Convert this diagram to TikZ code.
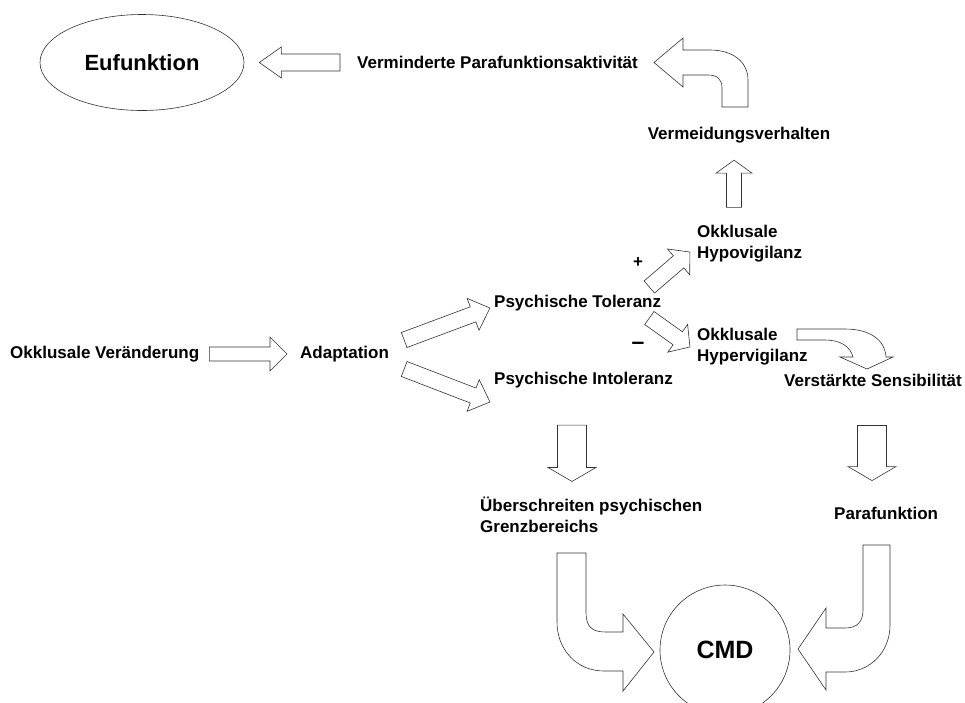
\documentclass[tikz,border=0pt]{standalone}
\usepackage{fontspec}
\setmainfont{Liberation Sans}
\usetikzlibrary{calc,shapes.geometric}

% block arrow: tail, tip, half shaft, half head, head length
\newcommand{\blockarrow}[5]{%
  \draw[blk] let \p1=(#1), \p2=(#2),
    \n1={atan2(\y2-\y1,\x2-\x1)}, \n2={veclen(\x2-\x1,\y2-\y1)} in
    [shift={(\p1)}, rotate=\n1]
    (0,#3) -- ({\n2-#5},#3) -- ({\n2-#5},#4) -- (\n2,0) -- ({\n2-#5},-#4) -- ({\n2-#5},-#3) -- (0,-#3) -- cycle;}

\begin{document}
\begin{tikzpicture}[x=1pt,y=-1pt]
\tikzstyle{txt}=[font=\bfseries\fontsize{17}{21}\selectfont, inner sep=0pt, align=left]
\tikzstyle{blk}=[draw=black!80, fill=white, line width=0.6pt, line join=miter]
\tikzstyle{bubble}=[draw=black!80, line width=0.6pt, inner sep=0pt]

\useasboundingbox (0,0) rectangle (965,702);

    % Aussagen
    \node[txt, anchor=west] (okk_v) at (10,354) {Okklusale Veränderung};
    \node[txt, anchor=west] (adapt) at (300,354) {Adaptation};
    \node[txt, anchor=west] (tol) at (494,303) {Psychische Toleranz};
    \node[txt, anchor=west] (intol) at (494,380) {Psychische Intoleranz};
    \node[txt, anchor=west] (hypo) at (697,244) {Okklusale\\Hypovigilanz};
    \node[txt, anchor=west] (hyper) at (697,347) {Okklusale\\Hypervigilanz};
    \node[txt] (verm) at (739,135) {Vermeidungsverhalten};
    \node[txt, anchor=west] (vpa) at (357,62.5) {Verminderte Parafunktionsaktivität};
    \node[txt, anchor=west] (sens) at (784,380) {Verstärkte Sensibilität};
    \node[txt, anchor=west] (ueber) at (480,515) {Überschreiten psychischen\\Grenzbereichs};
    \node[txt, anchor=west] (para) at (834,513) {Parafunktion};
    \node[txt] (plus) at (638,263) {+};
    \node[txt, font=\bfseries\fontsize{23}{26}\selectfont] (minus) at (638,346) {\textendash};

    % Endzustaende
    \node[bubble, ellipse, minimum width=204, minimum height=96, font=\bfseries\fontsize{22}{26}\selectfont] (eu) at (142,62.5) {Eufunktion};
    \node[bubble, circle, minimum size=130, font=\bfseries\fontsize{25}{30}\selectfont] (cmd) at (725,650) {CMD};

    %gerade Pfeile
    \blockarrow{$(vpa.west)+(-17,0)$}{$(eu.east)+(15,0)$}{8.5}{15.5}{22}
    \blockarrow{$(okk_v.east)+(10,0)$}{$(adapt.west)+(-13,0)$}{7}{17}{17}
    \blockarrow{$(adapt.east)+(15,-14)$}{$(tol.west)+(-4,5)$}{8}{17}{18}
    \blockarrow{$(adapt.east)+(15,15)$}{$(intol.west)+(-4,22)$}{8}{17}{18}
    \blockarrow{$(tol.east)+(-12,-16)$}{$(hypo.west)+(-7,8)$}{8}{17}{15}
    \blockarrow{$(tol.east)+(-12,15)$}{$(hyper.west)+(-7,0)$}{8}{17}{15}
    \blockarrow{$(hypo.north west)+(37,-18)$}{$(verm.south)+(-5,17)$}{7.5}{18}{13}
    \blockarrow{$(intol.south west)+(78,37)$}{$(ueber.north west)+(92,-15.5)$}{14.5}{24}{14}
    \blockarrow{$(sens.south west)+(88,39)$}{$(para.north west)+(38,-26)$}{14.5}{24}{14}

    %gebogene Pfeile
    \draw[blk] (722,107) -- (722,88) .. controls (722,79) and (717,75) .. (708,75) -- (683,75) -- (683,87) -- (654,62.5) -- (683,38) -- (683,50) -- (710,50) .. controls (733,50) and (748,62) .. (748,80) -- (748,107) -- cycle;
    \draw[blk] (797,329) -- (845,329) .. controls (870,329) and (885,340) .. (886,357) -- (893,357) -- (867,369) -- (840,357) -- (853,357) .. controls (850,346) and (840,340) .. (825,340) -- (797,340) -- cycle;
    \draw[blk] (557,553) -- (586,553) -- (586,612) .. controls (586,627) and (592,632) .. (606,632) -- (623,632) -- (623,614) -- (654,652) -- (623,691) -- (623,671) -- (604,671) .. controls (577,671) and (557,650) .. (557,622) -- cycle;
    \draw[blk] (863,545) -- (890,545) -- (890,625) .. controls (890,652) and (870,672) .. (845,672) -- (826,672) -- (826,690) -- (798,649) -- (826,608) -- (826,628) -- (845,628) .. controls (857,628) and (863,622) .. (863,610) -- cycle;

\end{tikzpicture}
\end{document}
